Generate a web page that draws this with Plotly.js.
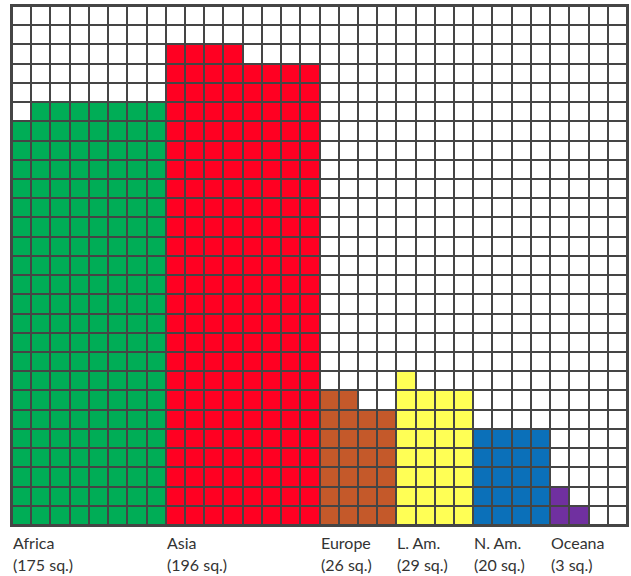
<!DOCTYPE html>
<html>
<head>
<meta charset="utf-8">
<script src="https://cdn.plot.ly/plotly-3.0.1.min.js"></script>
<style>html,body{margin:0;padding:0;background:#fff;}#chart{width:631px;height:576px;}</style>
</head>
<body>
<div id="chart"></div>
<script>
// Continents and their square counts
const categories = ["Africa", "Asia", "Europe", "L. Am.", "N. Am.", "Oceana"];
const squares = [175, 196, 26, 29, 20, 3];
const colors = ["#00ad56", "#ff0022", "#c4592a", "#ffff55", "#0b70b9", "#7030a0"];

// Filled squares in each column of each continent's block (left to right)
const africaCols = [21, 22, 22, 22, 22, 22, 22, 22];
const asiaCols = [25, 25, 25, 25, 24, 24, 24, 24];
const europeCols = [7, 7, 6, 6];
const latAmCols = [8, 7, 7, 7];
const northAmCols = [5, 5, 5, 5];
const oceanaCols = [2, 1, 0, 0];

const blockCols = [africaCols, asiaCols, europeCols, latAmCols, northAmCols, oceanaCols];
const nRows = 27;

// build grid
const colCat = [], colH = [], blockStart = [];
blockCols.forEach((cols, k) => {
  blockStart.push(colCat.length);
  cols.forEach(h => { colCat.push(k + 1); colH.push(h); });
});
const nCols = colCat.length;
const z = [];
for (let r = 0; r < nRows; r++) {
  const row = [];
  for (let c = 0; c < nCols; c++) row.push(r < colH[c] ? colCat[c] : 0);
  z.push(row);
}
const allColors = ["#ffffff"].concat(colors);
const n = allColors.length;
const colorscale = [];
allColors.forEach((col, k) => { colorscale.push([k / n, col]); colorscale.push([(k + 1) / n, col]); });

const xs = Array.from({length: nCols}, (_, i) => i);
const ys = Array.from({length: nRows}, (_, i) => i);

const trace = {
  type: "heatmap", x: xs, y: ys, z: z,
  zmin: -0.5, zmax: n - 0.5, colorscale: colorscale, showscale: false,
  xgap: 2, ygap: 2, hoverinfo: "skip"
};

const labelFont = {family: "Lato, sans-serif", size: 16, color: "#333"};
const annotations = [];
categories.forEach((name, k) => {
  const x0 = blockStart[k] - 0.5;
  annotations.push({x: x0, xref: "x", y: 0, yref: "paper", xanchor: "left", yanchor: "middle",
    xshift: -1, yshift: -17, showarrow: false, text: name, font: labelFont});
  annotations.push({x: x0, xref: "x", y: 0, yref: "paper", xanchor: "left", yanchor: "middle",
    xshift: -1, yshift: -39, showarrow: false, text: "(" + squares[k] + " sq.)", font: labelFont});
});

const layout = {
  width: 631, height: 576,
  margin: {l: 12, r: 4, t: 6, b: 51},
  paper_bgcolor: "#ffffff", plot_bgcolor: "#454545",
  xaxis: {range: [-0.5, nCols - 0.5], showgrid: false, zeroline: false, showticklabels: false, ticks: "",
    showline: true, mirror: true, linecolor: "#454545", linewidth: 2, fixedrange: true},
  yaxis: {range: [-0.5, nRows - 0.5], showgrid: false, zeroline: false, showticklabels: false, ticks: "",
    showline: true, mirror: true, linecolor: "#454545", linewidth: 2, fixedrange: true},
  annotations: annotations,
  showlegend: false
};

Plotly.newPlot("chart", [trace], layout, {displayModeBar: false, staticPlot: true});
</script>
</body>
</html>
